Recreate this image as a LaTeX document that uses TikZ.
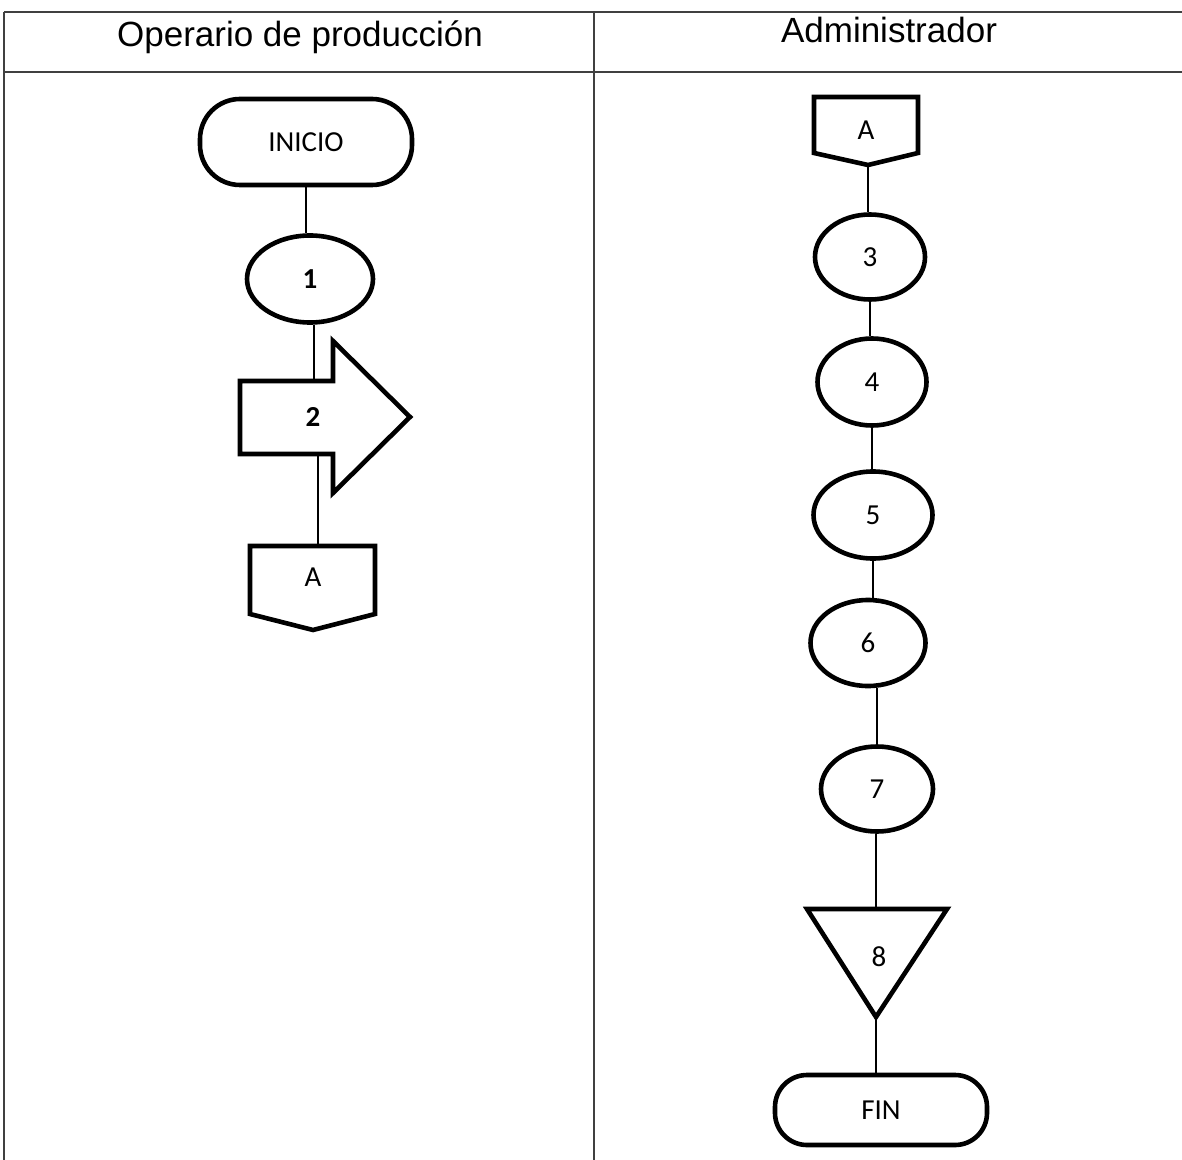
\documentclass[tikz,border=0pt]{standalone}
\usepackage{fontspec}
\setmainfont{Liberation Sans}
\newfontfamily\carl{Carlito}
\usetikzlibrary{shapes.geometric}
\begin{document}
\begin{tikzpicture}[x=0.5pt,y=-0.5pt,
  fc/.style={draw, line width=2.3pt, inner sep=0pt, font=\carl\fontsize{14.5}{16}\selectfont},
  oval/.style={fc, ellipse},
  term/.style={fc, rectangle},
  lbl/.style={inner sep=0pt, font=\carl\fontsize{14.5}{16}\selectfont},
  figpath/.style={line width=2.3pt, line join=miter},
  link/.style={line width=1.1pt},
  grid/.style={line width=1pt, black!75},
  head/.style={inner sep=0pt, anchor=base, font=\fontsize{17.5}{20}\selectfont}]
\useasboundingbox (0,0) rectangle (1182,1160);
% table
\draw[grid] (4,12) -- (1182,12);
\draw[grid] (4,72) -- (1182,72);
\draw[grid] (4,12) -- (4,1160);
\draw[grid] (594,12) -- (594,1160);
\node[head] (h1) at (300,47) {Operario de producción};
\node[head] (h2) at (889,43) {Administrador};
% left column
\node[term, minimum width=106pt, minimum height=43pt, rounded corners=20pt] (inicio) at (306,142) {INICIO};
\node[oval, minimum width=63pt, minimum height=43.5pt] (n1) at (310,279) {\bfseries 1};
\draw[figpath] (240,381) -- (333,381) -- (333,341) -- (410,417) -- (333,493) -- (333,454) -- (240,454) -- cycle;
\node[lbl] (n2) at (313,417) {\bfseries 2};
\coordinate (arrTop) at (314,381);
\coordinate (arrBot) at (318,454);
\draw[figpath] (250,546) -- (375,546) -- (375,614) -- (313,630) -- (250,614) -- cycle;
\node[lbl] (offL) at (313,577) {A};
\coordinate (offLtop) at (318,546);
\draw[link] (inicio.south) -- (inicio.south |- n1.north);
\draw[link] (arrTop |- n1.south) -- (arrTop);
\draw[link] (arrBot) -- (offLtop);
% right column
\draw[figpath] (814,97) -- (918,97) -- (918,153) -- (868,165) -- (814,153) -- cycle;
\node[lbl] (offR) at (866,130) {A};
\coordinate (offRbot) at (868,165);
\node[oval, minimum width=55pt, minimum height=42.5pt] (n3) at (870,257) {3};
\node[oval, minimum width=54.5pt, minimum height=43.5pt] (n4) at (872,382) {4};
\node[oval, minimum width=59.5pt, minimum height=43.5pt] (n5) at (873,515) {5};
\node[oval, minimum width=57.5pt, minimum height=43pt] (n6) at (868,643) {6};
\node[oval, minimum width=56pt, minimum height=42.5pt] (n7) at (877,789) {7};
\draw[figpath] (807,909) -- (947,909) -- (876,1017) -- cycle;
\node[lbl] (n8) at (879,957) {8};
\coordinate (triTop) at (876,909);
\coordinate (triTip) at (876,1017);
\node[term, minimum width=106pt, minimum height=35pt, rounded corners=16pt] (fin) at (881,1110) {FIN};
\draw[link] (offRbot) -- (offRbot |- n3.north);
\draw[link] (n3.south) -- (n3.south |- n4.north);
\draw[link] (n4.south) -- (n4.south |- n5.north);
\draw[link] (n5.south) -- (n5.south |- n6.north);
\draw[link] (n6.south -| n7.south) -- (n7.north);
\draw[link] (triTop |- n7.south) -- (triTop);
\draw[link] (triTip) -- (triTip |- fin.north);
\end{tikzpicture}
\end{document}
